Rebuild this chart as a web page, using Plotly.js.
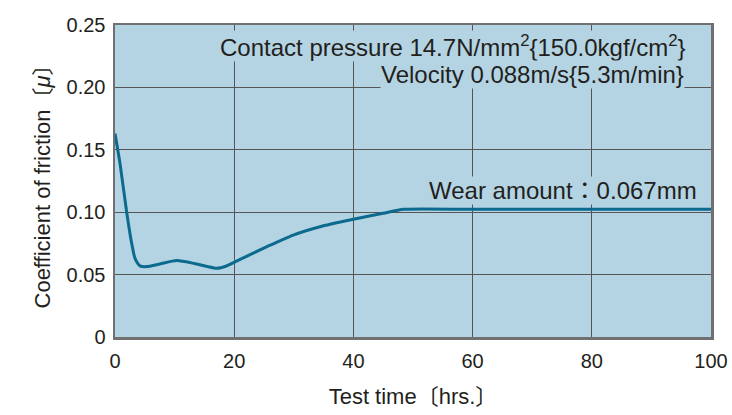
<!DOCTYPE html>
<html>
<head>
<meta charset="utf-8">
<script src="https://cdn.plot.ly/plotly-3.0.1.min.js"></script>
<style>html,body{margin:0;padding:0;background:#fff;}#chart{width:732px;height:415px;}</style>
</head>
<body>
<div id="chart"></div>
<script>
// Data
const testTimeHrs = [0, 0.84, 1.96, 2.8, 3.36, 4.2, 5.3, 7.55, 10.35, 13.7, 17.1, 18.7, 21, 25.5, 29.9, 34.4, 40, 45, 48.4, 60, 80, 100];
const frictionCoef = [0.163, 0.139, 0.100, 0.075, 0.063, 0.057, 0.0564, 0.0585, 0.0612, 0.0585, 0.055, 0.0569, 0.0622, 0.0724, 0.0817, 0.0884, 0.0943, 0.0991, 0.1023, 0.1023, 0.1023, 0.1023];
const xTickVals = [0, 20, 40, 60, 80, 100];
const xTickText = ["0", "20", "40", "60", "80", "100"];
const yTickVals = [0, 0.05, 0.10, 0.15, 0.20, 0.25];
const yTickText = ["0", "0.05", "0.10", "0.15", "0.20", "0.25"];
const noteTexts = [
  "Contact pressure 14.7N/mm<sup>2</sup>{150.0kgf/cm<sup>2</sup>}",
  "Velocity 0.088m/s{5.3m/min}",
  "Wear amount：0.067mm"
];
const noteX = [96.0, 95.6, 97.8];
const noteY = [0.233, 0.2105, 0.1175];

const FONT = "Liberation Sans, Arial, Noto Sans CJK JP, sans-serif";
const BG = "#b4d4e3";

const trace = {
  x: testTimeHrs,
  y: frictionCoef,
  type: "scatter",
  mode: "lines",
  line: {color: "#0b6a8e", width: 3, shape: "spline", smoothing: 0.6},
  hoverinfo: "skip",
  cliponaxis: true
};

const annotations = noteTexts.map((t, i) => ({
  x: noteX[i], y: noteY[i], xref: "x", yref: "y",
  text: t, showarrow: false, xanchor: "right", yanchor: "middle",
  bgcolor: BG, borderpad: 0,
  font: {family: FONT, size: 24, color: "#231f20"}
}));

const layout = {
  width: 732, height: 415,
  margin: {l: 115, r: 21, t: 25, b: 78},
  paper_bgcolor: "#ffffff",
  plot_bgcolor: BG,
  showlegend: false,
  font: {family: FONT, color: "#231f20"},
  xaxis: {
    range: [0, 100], tickvals: xTickVals, ticktext: xTickText,
    showgrid: true, gridcolor: "#555555", gridwidth: 1.3,
    zeroline: false, showline: true, mirror: true, linecolor: "#707070", linewidth: 2.5,
    ticks: "", ticklabelstandoff: 4,
    tickfont: {family: FONT, size: 20, color: "#231f20"},
    title: {text: "Test time〔hrs.〕", font: {family: FONT, size: 22, color: "#231f20"}, standoff: 18}
  },
  yaxis: {
    range: [0, 0.25], tickvals: yTickVals, ticktext: yTickText,
    showgrid: true, gridcolor: "#555555", gridwidth: 1.3,
    zeroline: false, showline: true, mirror: true, linecolor: "#707070", linewidth: 2.5,
    ticks: "", ticklabelstandoff: 3,
    tickfont: {family: FONT, size: 20, color: "#231f20"},
    title: {text: "Coefficient of friction〔<i>μ</i>〕", font: {family: FONT, size: 22, color: "#231f20"}, standoff: 10}
  },
  annotations: annotations
};

Plotly.newPlot("chart", [trace], layout, {staticPlot: true, displayModeBar: false});
</script>
</body>
</html>
